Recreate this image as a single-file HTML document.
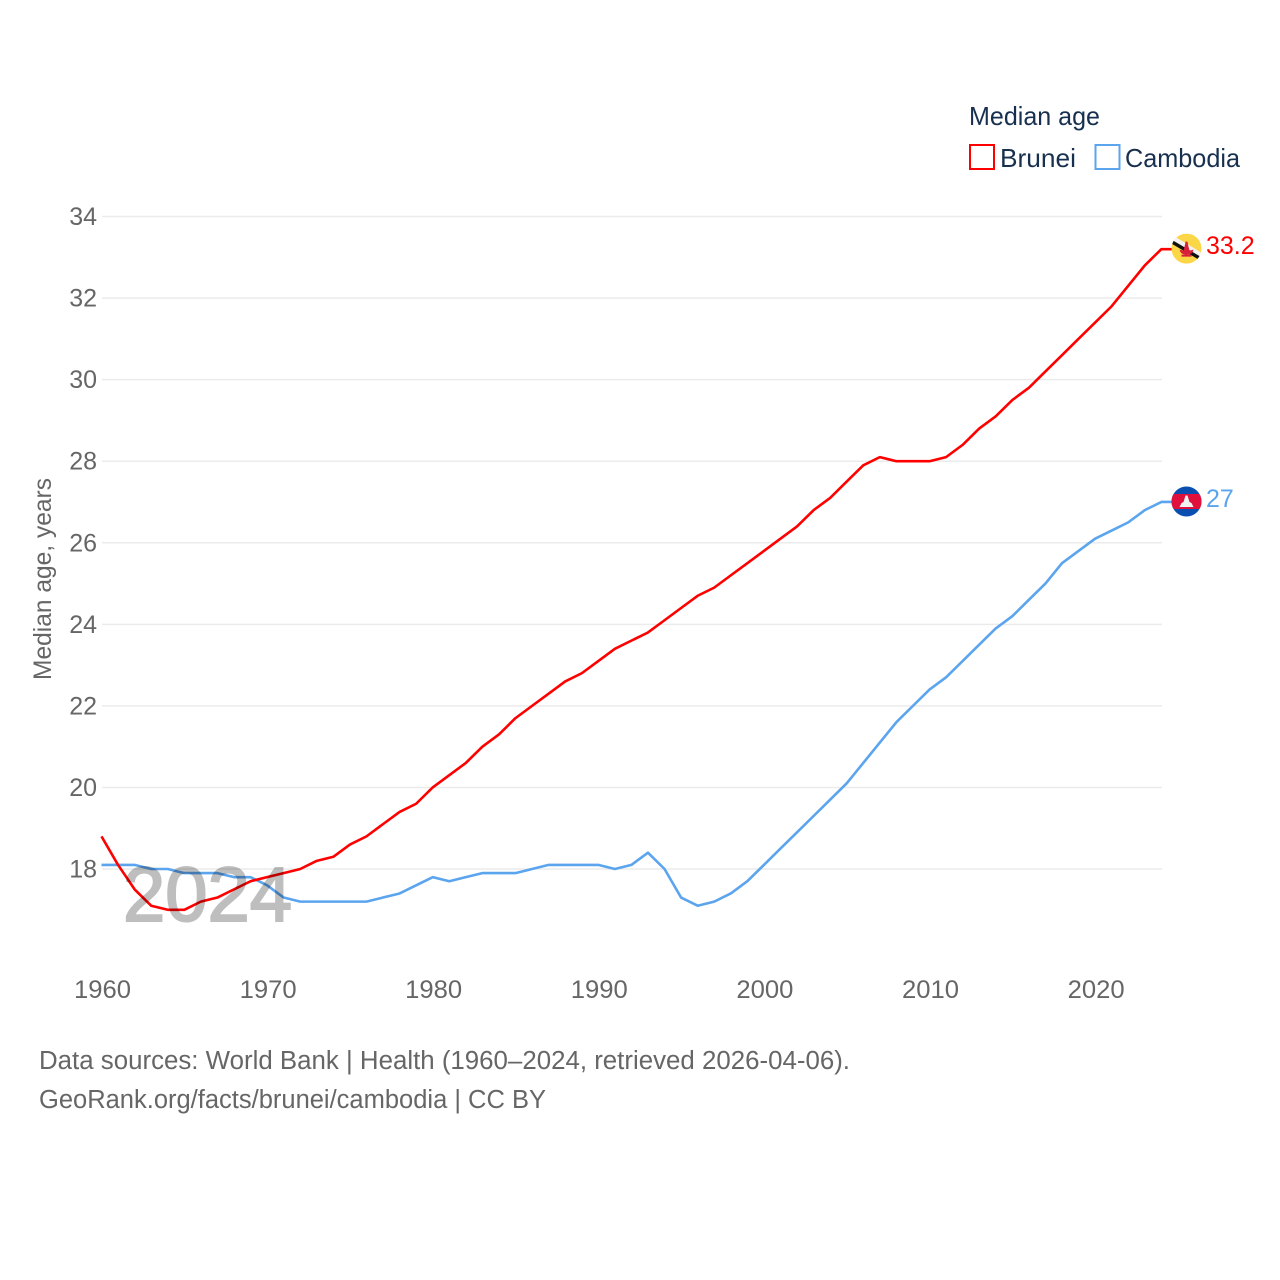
<!DOCTYPE html>
<html lang="en">
<head>
<meta charset="utf-8">
<title>Median age: Brunei and Cambodia</title>
<style>
html,body{margin:0;padding:0;background:#fff;width:1280px;height:1280px;overflow:hidden}
svg{display:block;font-family:"Liberation Sans",sans-serif}
.label{fill:#666;font-size:25px}
.legend{fill:#18304f;font-size:26px}
.foot{fill:#666;font-size:25.5px}
</style>
</head>
<body>
<svg id="chart" width="1280" height="1280" viewBox="0 0 1280 1280" xmlns="http://www.w3.org/2000/svg">
<defs>
<clipPath id="flag-clip-a"><circle cx="0" cy="0" r="15"/></clipPath>
<clipPath id="flag-clip-b"><circle cx="0" cy="0" r="15"/></clipPath>
</defs>
<g id="grid"></g>
<g id="y-ticks"></g>
<g id="x-ticks"></g>
<text class="label" transform="translate(51,579) rotate(-90)" text-anchor="middle" textLength="202" lengthAdjust="spacingAndGlyphs">Median age, years</text>
<g id="series"></g>
<text id="year-label" x="123" y="921" font-size="77" fill="#000" stroke="#000" stroke-width="2" opacity="0.25" textLength="169" lengthAdjust="spacingAndGlyphs">2024</text>
<g id="brunei-flag">
  <g clip-path="url(#flag-clip-a)">
    <rect x="-15" y="-15" width="30" height="30" fill="#fbd748"/>
    <polygon points="-15,-14 15,4 15,9 -15,-9" fill="#f2f2f2"/>
    <polygon points="-15,-9 15,8.6 15,12.6 -15,-5" fill="#111"/>
    <path d="M-7,1 Q-6,6 0,6 Q6,6 7,1 L3,2 L1.5,-4 L1,-7 L-1,-7 L-1.5,-4 L-3,2 Z M-5,8 L5,8 L5,6 L-5,6 Z" fill="#d8203a"/>
  </g>
</g>
<g id="cambodia-flag">
  <g clip-path="url(#flag-clip-b)">
    <rect x="-15" y="-15" width="30" height="30" fill="#0a4fb0"/>
    <rect x="-15" y="-7.5" width="30" height="15" fill="#e0103c"/>
    <path d="M-7,5.5 L-5,1.5 L-3,0.5 L-1,-6 L1,-6 L3,0.5 L5,1.5 L7,5.5 Z" fill="#f1f1f1"/>
  </g>
</g>
<text id="brunei-value" class="value" x="1206" font-size="25" fill="#ff0000"></text>
<text id="cambodia-value" class="value" x="1206" font-size="25" fill="#5ba4ee"></text>

<g>
  <text class="legend" x="969" y="125" textLength="131" lengthAdjust="spacingAndGlyphs">Median age</text>
  <g>
    <rect x="970" y="145" width="24" height="24" fill="#fff" stroke="#ff0000" stroke-width="2"/>
    <text class="legend" x="1000" y="167" textLength="76" lengthAdjust="spacingAndGlyphs">Brunei</text>
  </g>
  <g>
    <rect x="1095.5" y="145" width="24" height="24" fill="#fff" stroke="#5ba4ee" stroke-width="2"/>
    <text class="legend" x="1125" y="167" textLength="115" lengthAdjust="spacingAndGlyphs">Cambodia</text>
  </g>
</g>
<text class="foot" x="39" y="1069" textLength="811" lengthAdjust="spacingAndGlyphs">Data sources: World Bank | Health (1960–2024, retrieved 2026-04-06).</text>
<text class="foot" x="39" y="1108" textLength="507" lengthAdjust="spacingAndGlyphs">GeoRank.org/facts/brunei/cambodia | CC BY</text>
</svg>
<script>
const firstYear = 1960;
const bruneiValues = [18.8,18.1,17.5,17.1,17.0,17.0,17.2,17.3,17.5,17.7,17.8,17.9,18.0,18.2,18.3,18.6,18.8,19.1,19.4,19.6,20.0,20.3,20.6,21.0,21.3,21.7,22.0,22.3,22.6,22.8,23.1,23.4,23.6,23.8,24.1,24.4,24.7,24.9,25.2,25.5,25.8,26.1,26.4,26.8,27.1,27.5,27.9,28.1,28.0,28.0,28.0,28.1,28.4,28.8,29.1,29.5,29.8,30.2,30.6,31.0,31.4,31.8,32.3,32.8,33.2];
const cambodiaValues = [18.1,18.1,18.1,18.0,18.0,17.9,17.9,17.9,17.8,17.8,17.6,17.3,17.2,17.2,17.2,17.2,17.2,17.3,17.4,17.6,17.8,17.7,17.8,17.9,17.9,17.9,18.0,18.1,18.1,18.1,18.1,18.0,18.1,18.4,18.0,17.3,17.1,17.2,17.4,17.7,18.1,18.5,18.9,19.3,19.7,20.1,20.6,21.1,21.6,22.0,22.4,22.7,23.1,23.5,23.9,24.2,24.6,25.0,25.5,25.8,26.1,26.3,26.5,26.8,27.0];
const yTickValues = [18,20,22,24,26,28,30,32,34];
const xTickValues = [1960,1970,1980,1990,2000,2010,2020];

const NS = 'http://www.w3.org/2000/svg';
function xScale(year){ return 101.5 + (year - 1960) * 16.56; }
function yScale(v){ return 869 - (v - 18) * 40.78; }
function make(tag, parent){
  const el = document.createElementNS(NS, tag);
  parent.appendChild(el);
  return el;
}

const grid = document.getElementById('grid');
const yTicks = document.getElementById('y-ticks');
const xTicks = document.getElementById('x-ticks');

yTickValues.forEach(function(v){
  const line = make('line', grid);
  
  
  line.setAttribute('x1', 102);
  line.setAttribute('x2', 1162);
  line.setAttribute('y1', yScale(v));
  line.setAttribute('y2', yScale(v));
  line.setAttribute('stroke', '#ebebeb');
  line.setAttribute('stroke-width', 1.5);
  const t = make('text', yTicks);
  
  
  t.setAttribute('class', 'label');
  t.setAttribute('x', 97);
  t.setAttribute('y', yScale(v) + 8.5);
  t.setAttribute('text-anchor', 'end');
  t.textContent = v;
});

xTickValues.forEach(function(year){
  const t = make('text', xTicks);
  
  
  t.setAttribute('class', 'label');
  t.setAttribute('x', xScale(year) + 1);
  t.setAttribute('y', 998);
  t.setAttribute('text-anchor', 'middle');
  t.setAttribute('textLength', 57);
  t.setAttribute('lengthAdjust', 'spacingAndGlyphs');
  t.textContent = year;
});

function drawLine(values, colour, name){
  const d = values.map(function(v, i){
    return (i ? 'L' : 'M') + xScale(firstYear + i).toFixed(2) + ',' + yScale(v).toFixed(2);
  }).join(' ') + ' L1172,' + yScale(values[values.length - 1]).toFixed(2);
  const p = make('path', document.getElementById('series'));
  
  
  p.setAttribute('d', d);
  p.setAttribute('fill', 'none');
  p.setAttribute('stroke', colour);
  p.setAttribute('stroke-width', 2.6);
  p.setAttribute('stroke-linejoin', 'round');
}
drawLine(cambodiaValues, '#5ba4ee', 'cambodia-line');
drawLine(bruneiValues, '#ff0000', 'brunei-line');

function placeEnd(values, flagId, labelId){
  const last = values[values.length - 1];
  const y = yScale(last);
  document.getElementById(flagId).setAttribute('transform', 'translate(1186.5,' + (y - 0.5) + ')');
  const label = document.getElementById(labelId);
  label.setAttribute('y', y + 5);
  label.textContent = String(last);
}
placeEnd(bruneiValues, 'brunei-flag', 'brunei-value');
placeEnd(cambodiaValues, 'cambodia-flag', 'cambodia-value');
</script>
</body>
</html>
